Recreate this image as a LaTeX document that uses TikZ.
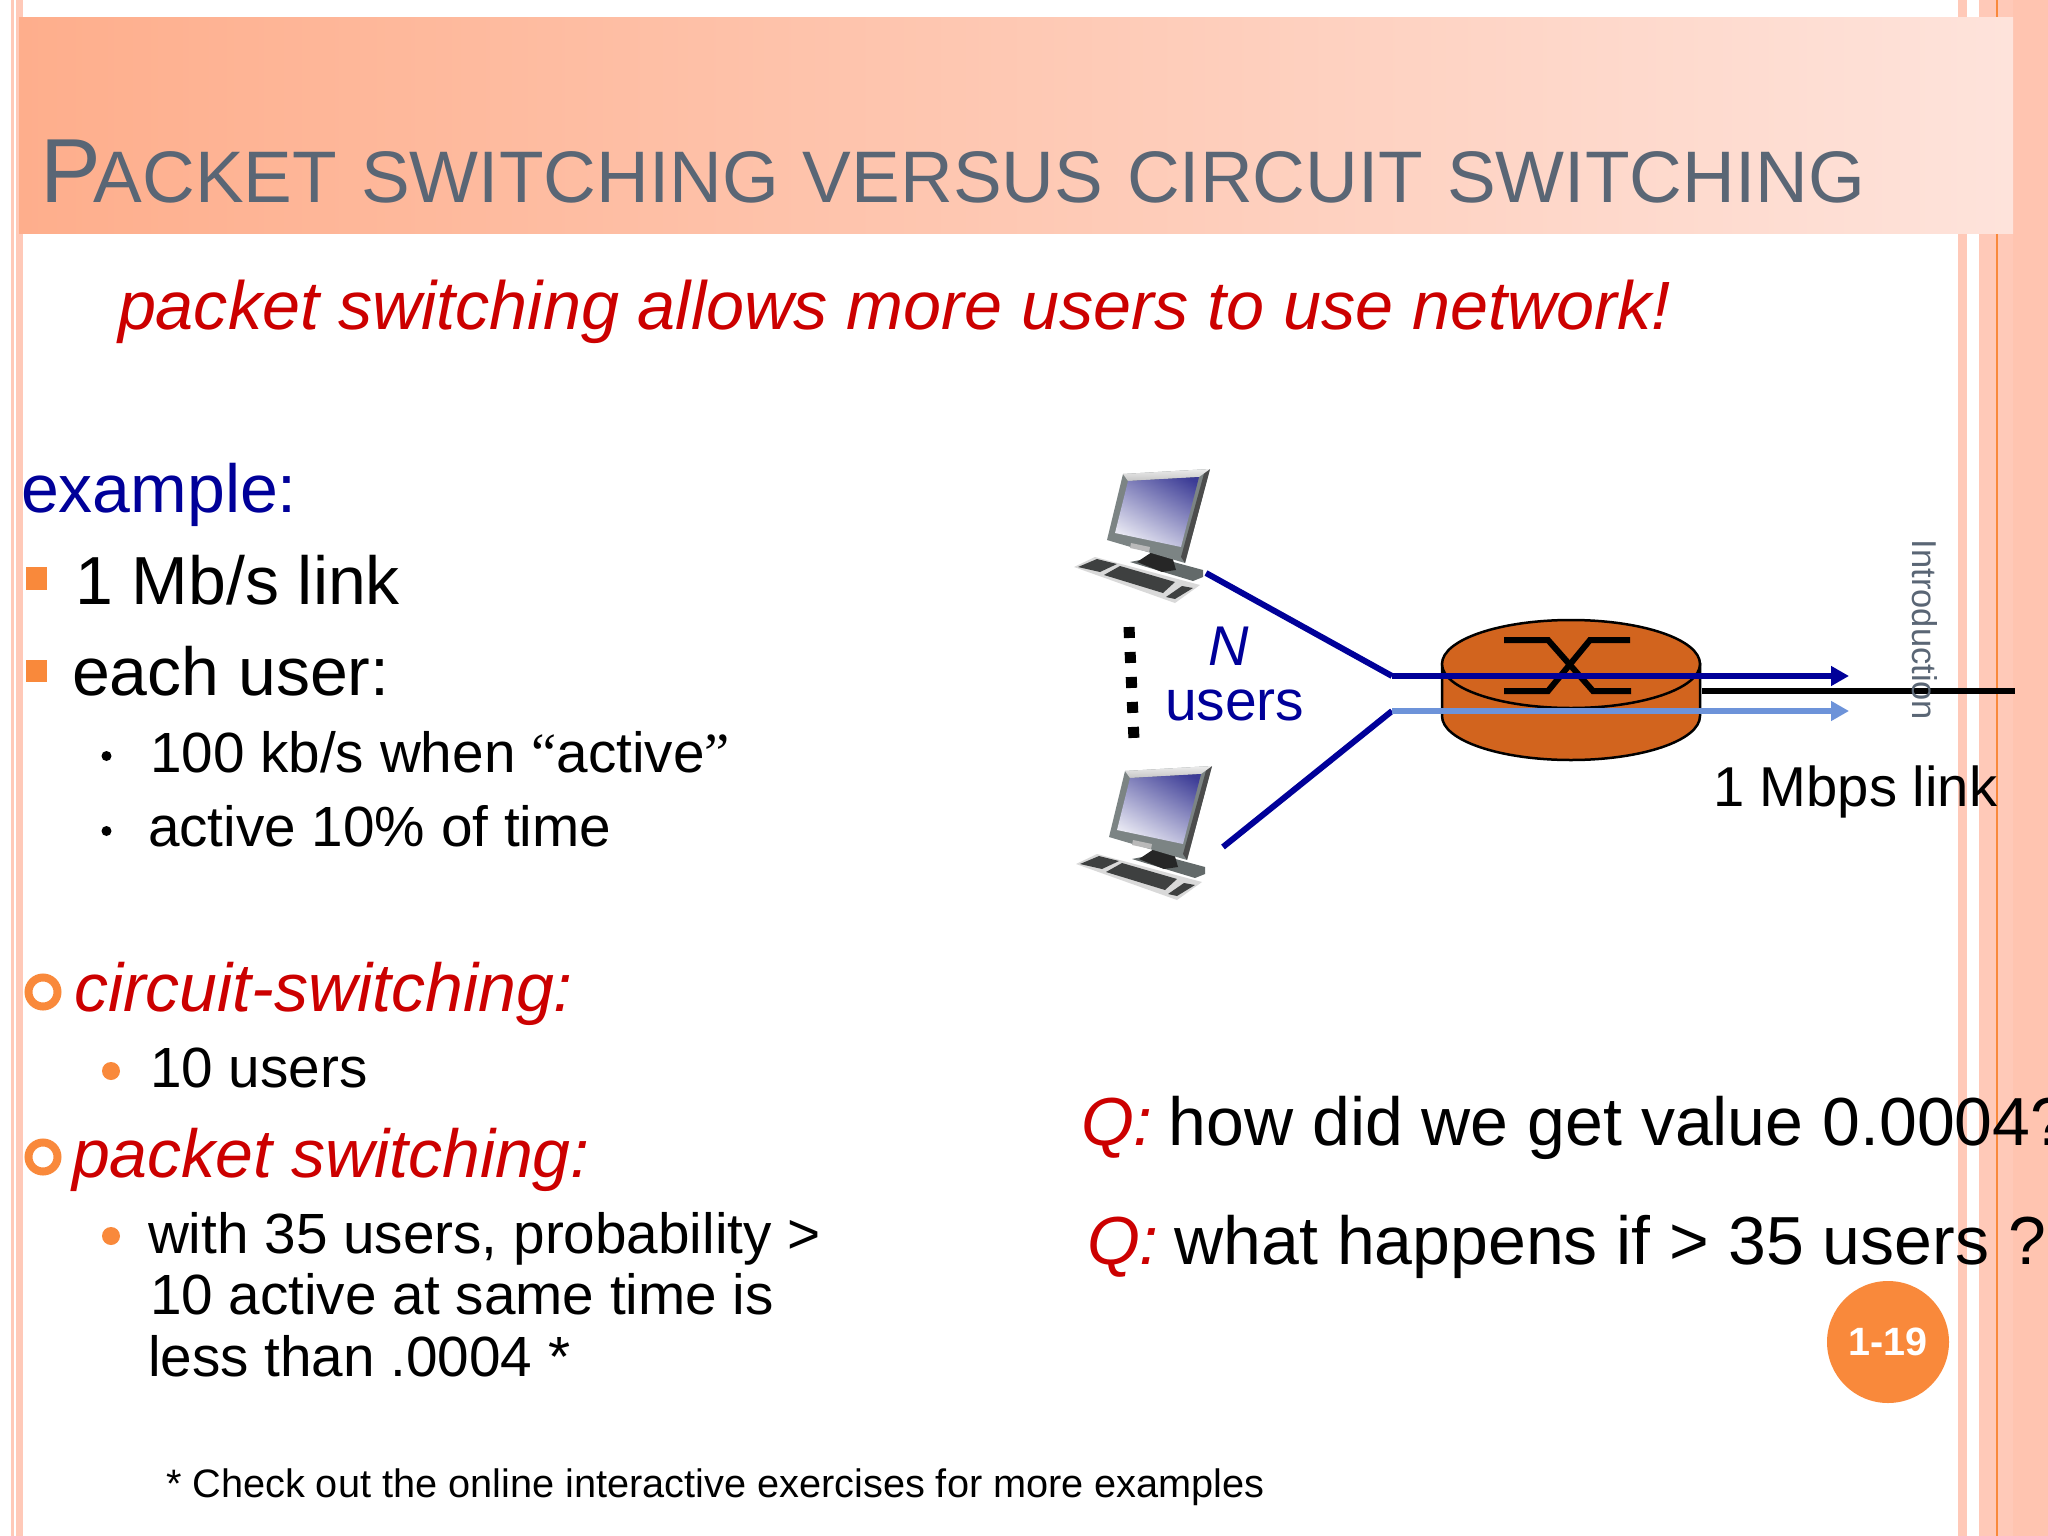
\documentclass[tikz,border=0pt]{standalone}
\usepackage{fontspec}
\setmainfont{Liberation Sans}
\newfontfamily\qf{Liberation Serif}
\usetikzlibrary{arrows.meta,shadings}
\definecolor{stripe}{HTML}{FFC9B8}
\definecolor{stripeb}{HTML}{FFC4B0}
\definecolor{bandl}{HTML}{FEAE8C}
\definecolor{bandr}{HTML}{FEE3DB}
\definecolor{orng}{HTML}{F9893B}
\definecolor{titlegray}{HTML}{5A6675}
\definecolor{qred}{HTML}{CC0000}
\definecolor{nblue}{HTML}{000099}
\definecolor{lblue}{HTML}{6D93D9}
\definecolor{routerc}{HTML}{D2641E}
\definecolor{bezel}{HTML}{7C8484}
\definecolor{bezeld}{HTML}{636A6A}
\definecolor{keydark}{HTML}{3E4040}
\definecolor{screend}{HTML}{3C3C96}
\newcommand{\fs}[1]{\fontsize{#1}{#1}\selectfont}
\newcommand{\pcdraw}[1]{%
\begin{scope}[shift={#1}]
  % keyboard
  \fill[gray!30] (1074,567) -- (1095,557) -- (1200,585) -- (1175,603) -- cycle;
  \fill[keydark] (1078,567) -- (1097,559) -- (1117,564) -- (1100,572) -- cycle;
  \fill[keydark] (1104,575) -- (1120,566) -- (1175,582) -- (1163,593) -- cycle;
  \fill[keydark] (1166,597) -- (1182,586) -- (1193,588) -- (1175,599) -- cycle;
  % base and stand
  \fill[bezeld] (1130,562) -- (1155,557) -- (1203,570) -- (1203,577) -- (1193,581) -- cycle;
  \fill[black!85] (1137,562) -- (1152,552) -- (1172,556) -- (1176,570) -- (1162,572) -- cycle;
  % monitor
  \fill[bezel] (1123,474) -- (1210,469) -- (1185,563) -- (1107,540) -- cycle;
  \fill[black!70] (1210,469) -- (1185,563) -- (1181,557) -- (1205,470) -- cycle;
  \shade[top color=gray!15,bottom color=gray!45] (1123,474) -- (1210,469) -- (1199,477) -- (1128,481) -- cycle;
  \begin{scope}
    \clip (1128,481) -- (1199,477) -- (1181,547) -- (1115,533) -- cycle;
    \shade[bottom color=white,top color=screend,shading angle=-30] (1100,470) rectangle (1210,555);
  \end{scope}
  \fill[gray!55] (1131,543) -- (1150,547) -- (1149,552) -- (1130,548) -- cycle;
\end{scope}}
\begin{document}
\begin{tikzpicture}[x=1pt,y=-1pt,
  txt/.style={anchor=base west,inner sep=0pt,outer sep=0pt,text=black},
  slink/.style={line width=6pt,color=nblue},
  fwd/.style={line width=6pt,-{Triangle[length=18pt,width=19pt]}},
  lvl1/.style={txt,font=\fs{68}},
  lvl2/.style={txt,font=\fs{56.7}},
  qtext/.style={txt,font=\fs{68}},
  cross/.style={line width=6pt,color=black}]
\useasboundingbox (0,0) rectangle (2048,1536);
\clip (0,0) rectangle (2048,1536);
\fill[white] (0,0) rectangle (2048,1536);
% side stripes
\fill[stripe] (11,0) rectangle (13.5,1536);
\fill[stripe] (15.5,0) rectangle (23,1536);
\fill[stripe] (1958,0) rectangle (1967,1536);
\fill[stripe] (1979,0) rectangle (2013,1536);
\fill[stripeb] (2013,0) rectangle (2048,1536);
\fill[orng] (1996,0) rectangle (1998,1536);
% title band
\shade[left color=bandl,right color=bandr] (19,17.5) rectangle (2013,233);
\node[anchor=base west,inner sep=0pt,text=titlegray] (title) at (40,202)
  {\fs{91}P\kern-7pt\fs{73}\spaceskip=24pt\relax ACKET SWITCHING VERSUS CIRCUIT SWITCHING};
\node[txt,text=qred,font=\fs{68.3}\itshape] (head) at (118,329)
  {packet switching allows more users to use network!};
% left column
\node[lvl1,text=nblue] (ex) at (21,512) {example:};
\fill[orng] (26,567) rectangle (47,590);
\node[lvl1] (l1) at (75,604) {1 Mb/s link};
\fill[orng] (26,660) rectangle (47,682);
\node[lvl1] (l2) at (72,695) {each user:};
\fill[black] (106.5,756) circle (5);
\node[lvl2] (l3) at (150,772.5) {100 kb/s when {\qf“}active{\qf”}};
\fill[black] (106.5,831) circle (5);
\node[lvl2] (l4) at (148,846.5) {active 10\% of time};
\draw[orng,line width=8pt] (43,992) circle (14.5);
\node[lvl1,text=qred,font=\fs{68}\itshape] (cs) at (74,1011) {circuit-switching:};
\fill[orng] (111,1071) circle (9);
\node[lvl2] (l5) at (150,1087.5) {10 users};
\draw[orng,line width=8pt] (43,1157) circle (14.5);
\node[lvl1,text=qred,font=\fs{68}\itshape] (ps) at (72,1177) {packet switching:};
\fill[orng] (111,1236) circle (9);
\node[lvl2] (l6) at (148,1253.5) {with 35 users, probability >};
\node[lvl2] (l7) at (150,1314.5) {10 active at same time is};
\node[lvl2] (l8) at (148,1376.5) {less than .0004 *};
\node[txt,font=\fs{39.7}] (foot) at (166,1497) {* Check out the online interactive exercises for more examples};
% computers
\pcdraw{(0,0)}
\pcdraw{(2,297)}
% router
\coordinate (pc1) at (1206,573);
\coordinate (pc2) at (1223,847);
\coordinate (merge1) at (1392,676);
\coordinate (merge2) at (1392,711);
\coordinate (tip1) at (1849,676);
\coordinate (tip2) at (1849,711);
\coordinate (rout) at (1702,691);
\coordinate (lend) at (2015,691);
\draw[black,line width=2.5pt,fill=routerc] (1442,664) -- (1442,716) arc[start angle=180,end angle=0,x radius=129,y radius=44] -- (1700,664) -- cycle;
\draw[black,line width=2.5pt,fill=routerc] (1571,664) ellipse [x radius=129,y radius=44];
\draw[cross] (1504,640) -- (1548,640) -- (1593,691) -- (1631,691);
\draw[cross] (1630,640) -- (1590,640) -- (1548,691) -- (1504,691);
\draw[black,line width=6.5pt] (rout) -- (lend);
\draw[slink,line join=miter] (pc1) -- (merge1);
\draw[slink] (pc2) -- (merge2);
\draw[fwd,nblue] (merge1) -- (tip1);
\draw[fwd,lblue] (merge2) -- (tip2);
% dots
\coordinate (d1) at (1129,627);
\coordinate (d2) at (1134,740);
\draw[black,line width=11pt,dash pattern=on 11pt off 14pt] (d1) -- (d2);
% labels
\node[txt,text=nblue,font=\fs{56}\itshape] (n) at (1208,665) {N};
\node[txt,text=nblue,font=\fs{57}] (users) at (1165,720) {users};
\node[txt,font=\fs{56.2}] (mb) at (1713,806) {1 Mbps link};
\node[anchor=center,inner sep=0pt,rotate=-90,text=titlegray,font=\fs{34.5}] (intro) at (1925,630) {Introduction};
\node[qtext] (q1) at (1081,1145) {\textcolor{qred}{\itshape Q:}\kern-3pt{} how did we get value 0.0004?};
\node[qtext] (q2) at (1087,1264) {\textcolor{qred}{\itshape Q:}\kern-3pt{} what happens if > 35 users ?};
\node[circle,fill=orng,minimum size=122pt,inner sep=0pt,text=white,font=\fs{39.5}\bfseries] (pg) at (1888,1342) {1-19};
\end{tikzpicture}
\end{document}
